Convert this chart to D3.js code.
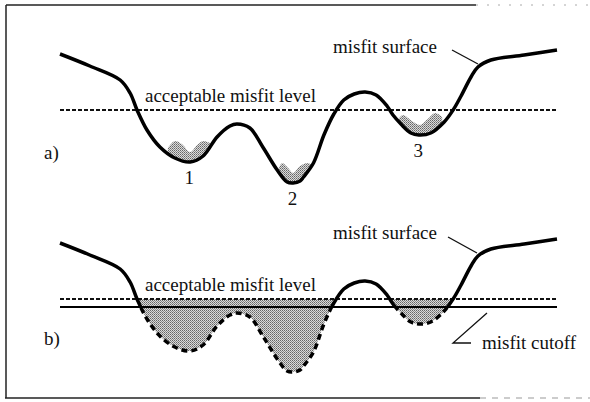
<!DOCTYPE html>
<html>
<head>
<meta charset="utf-8">
<script src="https://cdn.jsdelivr.net/npm/d3@7"></script>
<style>
  body { margin: 0; background: #fff; }
  text { font-family: 'Liberation Serif', 'Times New Roman', serif; font-size: 19px; fill: #111; }
</style>
</head>
<body>
<div id="chart"></div>
<script>
const width = 590
const height = 402

// misfit surface: model parameter (0-100) against misfit
const param = [0, 6.0, 12.1, 14.1, 15.5, 17.5, 20.1, 23.1, 26.2, 28.8, 31.6, 34.2, 35.6, 38.2, 40.8, 43.7, 45.7, 46.9, 48.3,
  49.0, 51.0, 53.1, 55.1, 57.1, 59.2, 61.4, 63.6, 65.8, 67.0, 68.6, 70.6, 72.2, 74.6, 77.3, 79.1, 80.7, 82.7, 84.1, 86.7, 93.4, 100]
const misfit = [13.6, 12.4, 11.0, 9.7, 8.0, 6.0, 4.3, 3.2, 2.8, 3.4, 5.3, 6.4, 6.6, 6.2, 4.3, 2.0, 0.8, 0.7, 0.9,
  1.3, 2.7, 5.5, 7.6, 9.0, 9.6, 9.8, 9.5, 8.4, 7.5, 6.6, 5.7, 5.5, 5.7, 6.8, 8.0, 9.4, 11.3, 12.3, 13.0, 13.5, 14.0]

const acceptableLevel = 8.0
const misfitCutoff = 7.2

// model populations sitting in the three minima (top edge of the dots)
const popParam = [
  [21.7, 23.1, 24.5, 26.2, 27.6, 28.8, 30.2],
  [43.9, 44.7, 45.9, 46.9, 48.3, 49.9, 51.3],
  [68.0, 69.0, 70.8, 72.4, 74.0, 75.5, 76.9]
]
const popMisfit = [
  [4.2, 4.9, 4.6, 3.8, 4.5, 4.9, 4.7],
  [2.0, 2.7, 2.2, 1.7, 2.4, 2.7, 2.2],
  [7.0, 7.5, 6.9, 6.5, 7.1, 7.7, 7.3]
]
const minLabels = ['1', '2', '3']
const minParam = [26.0, 46.8, 72.1]
const minMisfit = [2.8, 0.7, 5.5]

const surface = param.map((p, i) => ({ p, m: misfit[i] }))

const svg = d3.select('#chart')
  .append('svg')
  .attr('width', width)
  .attr('height', height)

// frame (scan edge on the right side is ragged)
const frame = svg.append('g').attr('stroke', '#222').attr('fill', 'none')
frame.append('line').attr('x1', 6).attr('y1', 5).attr('x2', 6).attr('y2', 398).attr('stroke-width', 1.5)
frame.append('line').attr('x1', 6).attr('y1', 5).attr('x2', 476).attr('y2', 5).attr('stroke-width', 1.5)
frame.append('line').attr('x1', 5).attr('y1', 398).attr('x2', 480).attr('y2', 398).attr('stroke-width', 1.5)
frame.append('line').attr('x1', 476).attr('y1', 5).attr('x2', 590).attr('y2', 5)
  .attr('stroke', '#aaa').attr('stroke-dasharray', '2,9')
frame.append('line').attr('x1', 480).attr('y1', 398).attr('x2', 590).attr('y2', 398)
  .attr('stroke', '#999').attr('stroke-dasharray', '6,6')

const defs = svg.append('defs')
const stipple = defs.append('pattern')
  .attr('id', 'stipple')
  .attr('width', 2)
  .attr('height', 2)
  .attr('patternUnits', 'userSpaceOnUse')
stipple.append('rect').attr('width', 2).attr('height', 2).attr('fill', '#dadada')
stipple.append('rect').attr('width', 1).attr('height', 1).attr('fill', '#666')
stipple.append('rect').attr('x', 1).attr('y', 1).attr('width', 1).attr('height', 1).attr('fill', '#8a8a8a')

const x = d3.scaleLinear().domain([0, 100]).range([60, 557])

const panels = [
  { id: 'a', zero: 190, top: 20, bottom: 215, label: 'a)', labelY: 159, accY: 101.5, surfY: 53, lead: [[452, 50], [478, 64]] },
  { id: 'b', zero: 379, top: 215, bottom: 395, label: 'b)', labelY: 345, accY: 290.5, surfY: 239, lead: [[448, 237], [477, 253]] }
]

panels.forEach(pn => {
  const y = d3.scaleLinear().domain([0, 10]).range([pn.zero, pn.zero - 100])
  const g = svg.append('g')

  const line = d3.line()
    .x(d => x(d.p))
    .y(d => y(d.m))
    .curve(d3.curveCatmullRom.alpha(0.5))

  if (pn.id === 'a') {
    // region above the surface, used to trim the model populations
    defs.append('clipPath').attr('id', 'above-a')
      .append('path')
      .attr('d', d3.area().x(d => x(d.p)).y0(pn.top).y1(d => y(d.m))
        .curve(d3.curveCatmullRom.alpha(0.5))(surface))

    const popArea = d3.area()
      .x(d => x(d.p))
      .y0(pn.bottom)
      .y1(d => y(d.m))
      .curve(d3.curveCatmullRom.alpha(0.5))

    g.selectAll('.pop')
      .data(popParam.map((ps, k) => ps.map((p, i) => ({ p, m: popMisfit[k][i] }))))
      .enter()
      .append('path')
      .attr('class', 'pop')
      .attr('d', popArea)
      .attr('fill', 'url(#stipple)')
      .attr('clip-path', 'url(#above-a)')

    g.append('line')
      .attr('x1', x(0)).attr('x2', x(100))
      .attr('y1', y(acceptableLevel)).attr('y2', y(acceptableLevel))
      .attr('stroke', '#111').attr('stroke-width', 2).attr('stroke-dasharray', '4,2')

    g.append('path')
      .attr('d', line(surface))
      .attr('fill', 'none').attr('stroke', '#000').attr('stroke-width', 3.5)

    g.selectAll('.minlab')
      .data(minLabels)
      .enter()
      .append('text')
      .attr('class', 'minlab')
      .attr('x', (d, i) => x(minParam[i]))
      .attr('y', (d, i) => y(minMisfit[i]) + 22)
      .attr('text-anchor', 'middle')
      .text(d => d)
  } else {
    const yAcc = y(acceptableLevel)
    const yCut = y(misfitCutoff)

    defs.append('clipPath').attr('id', 'below-acc')
      .append('rect').attr('x', 0).attr('y', yAcc).attr('width', width).attr('height', pn.bottom - yAcc)
    defs.append('clipPath').attr('id', 'above-cut')
      .append('rect').attr('x', 0).attr('y', pn.top).attr('width', width).attr('height', yCut - pn.top)
    defs.append('clipPath').attr('id', 'below-cut')
      .append('rect').attr('x', 0).attr('y', yCut).attr('width', width).attr('height', pn.bottom - yCut)

    g.append('path')
      .attr('d', d3.area().x(d => x(d.p)).y0(yAcc).y1(d => y(d.m))
        .curve(d3.curveCatmullRom.alpha(0.5))(surface))
      .attr('fill', 'url(#stipple)')
      .attr('clip-path', 'url(#below-acc)')

    g.append('line')
      .attr('x1', x(0)).attr('x2', x(100))
      .attr('y1', yAcc).attr('y2', yAcc)
      .attr('stroke', '#111').attr('stroke-width', 2).attr('stroke-dasharray', '4,2')

    g.append('line')
      .attr('x1', x(0)).attr('x2', x(100))
      .attr('y1', yCut).attr('y2', yCut)
      .attr('stroke', '#000').attr('stroke-width', 2)

    g.append('path')
      .attr('d', line(surface))
      .attr('fill', 'none').attr('stroke', '#000').attr('stroke-width', 3.5)
      .attr('clip-path', 'url(#above-cut)')

    g.append('path')
      .attr('d', line(surface))
      .attr('fill', 'none').attr('stroke', '#000').attr('stroke-width', 3.5)
      .attr('stroke-dasharray', '6,4')
      .attr('clip-path', 'url(#below-cut)')

    // misfit cutoff annotation
    g.append('polyline')
      .attr('points', '487,313 453,343 471,343')
      .attr('fill', 'none').attr('stroke', '#111').attr('stroke-width', 1.3)
    g.append('text').attr('x', 482).attr('y', 349).text('misfit cutoff')
  }

  g.append('text').attr('x', 145).attr('y', pn.accY).text('acceptable misfit level')
  g.append('text').attr('x', 333).attr('y', pn.surfY).text('misfit surface')
  g.append('line')
    .attr('x1', pn.lead[0][0]).attr('y1', pn.lead[0][1])
    .attr('x2', pn.lead[1][0]).attr('y2', pn.lead[1][1])
    .attr('stroke', '#111').attr('stroke-width', 1.3)
  g.append('text').attr('x', 44).attr('y', pn.labelY).text(pn.label)
})
</script>
</body>
</html>
